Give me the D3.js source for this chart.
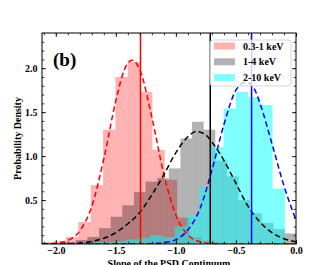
<!DOCTYPE html>
<html>
<head>
<meta charset="utf-8">
<script src="https://cdn.jsdelivr.net/npm/d3@7"></script>
<style>
  html, body { margin: 0; padding: 0; background: #fff; }
  text { font-family: "Liberation Serif", "DejaVu Serif", serif; font-weight: bold; }
</style>
</head>
<body>
<div id="chart"></div>
<script>
// histogram bins: first left edge, bin width, heights
const softStart = -2.12, softWidth = 0.1027;
const softHeights = [0.02, 0.03, 0.08, 0.25, 0.67, 1.30, 1.90, 2.07, 1.73, 1.07, 0.73, 0.30, 0.08, 0.04, 0.02, 0.01, 0.01, 0.01, 0.01, 0.01, 0.01];

const midStart = -2.124, midWidth = 0.0968;
const midHeights = [0.01, 0.01, 0.02, 0.045, 0.08, 0.18, 0.31, 0.44, 0.59, 0.71, 0.75, 0.86, 1.2, 1.39, 1.30, 0.95, 0.77, 0.50, 0.35, 0.24, 0.17, 0.12];

const hardStart = -2.133, hardWidth = 0.102;
const hardHeights = [0.01, 0.01, 0.01, 0.01, 0.02, 0.02, 0.03, 0.05, 0.07, 0.1, 0.08, 0.2, 0.33, 0.65, 1.1, 1.54, 1.73, 1.67, 1.58, 0.63, 0];

// dashed fit curves
const softFit = [[-2.11,0],[-2.0,0.01],[-1.9,0.04],[-1.8,0.15],[-1.7,0.43],[-1.6,0.97],[-1.5,1.63],[-1.43,1.98],[-1.365,2.09],[-1.3,1.98],[-1.2,1.44],[-1.1,0.79],[-1.0,0.33],[-0.9,0.105],[-0.8,0.026],[-0.7,0.005],[-0.5,0],[0,0]];
const midFit = [[-2.11,0],[-1.9,0.003],[-1.8,0.01],[-1.7,0.03],[-1.6,0.065],[-1.5,0.13],[-1.4,0.23],[-1.3,0.36],[-1.2,0.56],[-1.1,0.79],[-1.0,1.04],[-0.9,1.22],[-0.83,1.28],[-0.75,1.24],[-0.7,1.16],[-0.6,0.95],[-0.5,0.69],[-0.4,0.43],[-0.3,0.25],[-0.2,0.13],[-0.1,0.06],[0,0.025]];
const hardFit = [[-2.11,0],[-1.4,0],[-1.2,0.003],[-1.1,0.015],[-1.0,0.05],[-0.9,0.16],[-0.8,0.4],[-0.7,0.84],[-0.6,1.36],[-0.5,1.75],[-0.42,1.84],[-0.35,1.77],[-0.3,1.6],[-0.2,1.14],[-0.1,0.66],[0,0.27]];

// vertical marker lines
const medians = [-1.295, -0.714, -0.37];

const bandLabels = ["0.3-1 keV", "1-4 keV", "2-10 keV"];
const xTicks = [-2.0, -1.5, -1.0, -0.5, 0.0];
const yTicks = [0.5, 1.0, 1.5, 2.0];

const W = 330, H = 265;
const m = { left: 42, right: 34, top: 33, bottom: 21 };

const svg = d3.select("#chart").append("svg")
  .attr("width", W).attr("height", H);

const x = d3.scaleLinear().domain([-2.115, 0.0]).range([m.left, W - m.right]);
const y = d3.scaleLinear().domain([0, 2.4]).range([H - m.bottom, m.top]);

svg.append("clipPath").attr("id", "plot")
  .append("rect")
  .attr("x", m.left).attr("y", m.top)
  .attr("width", W - m.left - m.right).attr("height", H - m.top - m.bottom);

const plot = svg.append("g").attr("clip-path", "url(#plot)");

const series = [
  { start: softStart, width: softWidth, heights: softHeights, fill: "rgba(255,0,0,0.3)", line: "#ff0000", fit: softFit },
  { start: midStart, width: midWidth, heights: midHeights, fill: "rgba(0,0,0,0.3)", line: "#000000", fit: midFit },
  { start: hardStart, width: hardWidth, heights: hardHeights, fill: "rgba(0,255,255,0.5)", line: "#0000ff", fit: hardFit }
];

series.forEach(s => {
  plot.append("g").selectAll("rect")
    .data(s.heights.map((h, i) => ({ x0: s.start + i * s.width, x1: s.start + (i + 1) * s.width, h })))
    .enter()
    .append("rect")
    .attr("x", d => x(d.x0))
    .attr("width", d => x(d.x1) - x(d.x0))
    .attr("y", d => y(d.h))
    .attr("height", d => y(0) - y(d.h))
    .attr("fill", s.fill);
});

const line = d3.line()
  .x(d => x(d[0]))
  .y(d => y(d[1]))
  .curve(d3.curveMonotoneX);

series.forEach(s => {
  plot.append("path")
    .datum(s.fit)
    .attr("d", line)
    .attr("fill", "none")
    .attr("stroke", s.line)
    .attr("stroke-width", 1.5)
    .attr("stroke-dasharray", "5.5,3.2");
});

series.forEach((s, i) => {
  plot.append("line")
    .attr("x1", x(medians[i])).attr("x2", x(medians[i]))
    .attr("y1", y(0)).attr("y2", y(2.4))
    .attr("stroke", s.line)
    .attr("stroke-width", 1.5);
});

// axes, ticks pointing inward on all four sides
const major = 4, minor = 2.3;
const xMinor = d3.range(-21, 1).map(k => k / 10);
const yMinor = d3.range(1, 24).map(k => k / 10);

const axBottom = d3.axisBottom(x).tickValues(xTicks).tickSizeInner(-major).tickSizeOuter(0)
  .tickFormat(d3.format(".1f")).tickPadding(2.5);
const axBottomMinor = d3.axisBottom(x).tickValues(xMinor).tickSizeInner(-minor).tickSizeOuter(0).tickFormat("");
const axTop = d3.axisTop(x).tickValues(xTicks).tickSizeInner(-major).tickSizeOuter(0).tickFormat("");
const axTopMinor = d3.axisTop(x).tickValues(xMinor).tickSizeInner(-minor).tickSizeOuter(0).tickFormat("");
const axLeft = d3.axisLeft(y).tickValues(yTicks).tickSizeInner(-major).tickSizeOuter(0)
  .tickFormat(d3.format(".1f")).tickPadding(4.5);
const axLeftMinor = d3.axisLeft(y).tickValues(yMinor).tickSizeInner(-minor).tickSizeOuter(0).tickFormat("");
const axRight = d3.axisRight(y).tickValues(yTicks).tickSizeInner(-major).tickSizeOuter(0).tickFormat("");
const axRightMinor = d3.axisRight(y).tickValues(yMinor).tickSizeInner(-minor).tickSizeOuter(0).tickFormat("");

const axes = svg.append("g");
[[axBottom, `translate(0,${y(0)})`], [axBottomMinor, `translate(0,${y(0)})`],
 [axTop, `translate(0,${m.top})`], [axTopMinor, `translate(0,${m.top})`],
 [axLeft, `translate(${m.left},0)`], [axLeftMinor, `translate(${m.left},0)`],
 [axRight, `translate(${W - m.right},0)`], [axRightMinor, `translate(${W - m.right},0)`]]
  .forEach(([ax, tr]) => {
    const g = axes.append("g").attr("transform", tr).call(ax);
    g.select(".domain").remove();
    g.selectAll("line").attr("stroke", "#000").attr("stroke-width", 0.8);
    g.selectAll("text").attr("font-size", 10).attr("fill", "#000")
      .text(function () { return this.textContent.replace("-", "\u2212"); });
  });

svg.append("rect")
  .attr("x", m.left).attr("y", m.top)
  .attr("width", W - m.left - m.right).attr("height", H - m.top - m.bottom)
  .attr("fill", "none").attr("stroke", "#000").attr("stroke-width", 1);

// labels
svg.append("text")
  .attr("x", (m.left + W - m.right) / 2).attr("y", 266.5)
  .attr("text-anchor", "middle").attr("font-size", 10)
  .text("Slope of the PSD Continuum");

svg.append("text")
  .attr("transform", `translate(21,${(m.top + H - m.bottom) / 2}) rotate(-90)`)
  .attr("text-anchor", "middle").attr("font-size", 10)
  .text("Probability Density");

svg.append("text")
  .attr("x", 53).attr("y", 66)
  .attr("font-size", 19)
  .text("(b)");

// legend
const lg = svg.append("g");
lg.append("rect")
  .attr("x", 210).attr("y", 40).attr("width", 81).attr("height", 46).attr("rx", 3)
  .attr("fill", "rgba(255,255,255,0.8)").attr("stroke", "#cccccc").attr("stroke-width", 0.8);
bandLabels.forEach((t, i) => {
  const cy = 46 + i * 15.8;
  lg.append("rect")
    .attr("x", 214).attr("y", cy - 3.5).attr("width", 21).attr("height", 7)
    .attr("fill", series[i].fill);
  lg.append("text")
    .attr("x", 243).attr("y", cy + 3.5)
    .attr("font-size", 10)
    .text(t);
});
</script>
</body>
</html>
